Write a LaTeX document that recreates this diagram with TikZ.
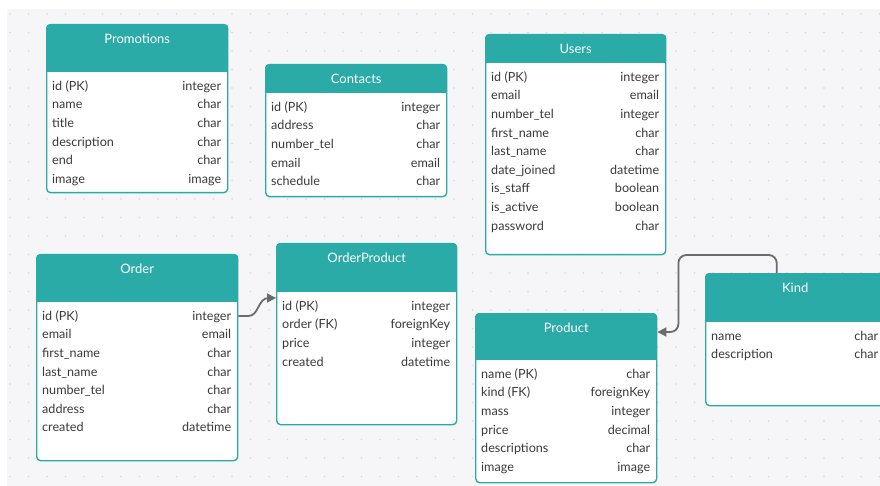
\documentclass[tikz,border=0pt]{standalone}
\usepackage{fontspec}
\setmainfont{Lato}
\usepackage{array}
\usetikzlibrary{arrows.meta}
\definecolor{headcol}{HTML}{2AABA8}
\definecolor{bgcol}{HTML}{F6F6F8}
\definecolor{dotcol}{HTML}{D9D9DE}
\definecolor{textcol}{HTML}{3A3A3A}
\definecolor{linkcol}{HTML}{6B6B6B}

\newcommand{\ertable}[8]{%
	\node[tablebody, minimum width=#4, minimum height=#6] (#1) at (#2,#3) {};
	\begin{scope}
		\clip[rounded corners=4pt] (#1.north west) rectangle (#1.south east);
		\fill[headcol] (#1.north west) rectangle ([yshift=-#5]#1.north east);
	\end{scope}
	\node[tabletitle] (#1-title) at ([yshift=-15]#1.north) {#7};
	\node[tablerows] (#1-rows) at ([xshift=6,yshift=-#5-5]#1.north west)
		{\begin{tabular*}{\dimexpr#4pt-12pt\relax}{@{}l@{\extracolsep{\fill}}r@{}}#8\end{tabular*}};
}

\begin{document}
\begin{tikzpicture}[x=1pt, y=-1pt,
				   tablebody/.style={draw=headcol, line width=1.4pt, fill=white, rounded corners=4pt, inner sep=0pt, anchor=north west},
				   tabletitle/.style={text=white, font=\fontsize{13}{15}\selectfont, inner sep=0pt},
				   tablerows/.style={text=textcol, font=\fontsize{12.6}{18.6}\selectfont, inner sep=0pt, anchor=north west},
				   link/.style={draw=linkcol, line width=1.8pt, -{Triangle[length=9pt, width=9pt]}}]
\useasboundingbox (0,0) rectangle (880,486);
\fill[white] (0,0) rectangle (880,486);
\fill[bgcol] (7,9) rectangle (880,486);
\foreach \x in {10,28.5,...,880}
	\foreach \y in {14,32.5,...,486}
		\fill[dotcol] (\x,\y) circle (0.8pt);

\ertable{promotions}{46}{24}{181}{48}{168}{Promotions}{%
	id (PK) & integer\\ name & char\\ title & char\\ description & char\\ end & char\\ image & image}
\ertable{contacts}{265}{64}{181}{29}{132}{Contacts}{%
	id (PK) & integer\\ address & char\\ number\_tel & char\\ email & email\\ schedule & char}
\ertable{users}{485}{34}{180}{29}{220}{Users}{%
	id (PK) & integer\\ email & email\\ number\_tel & integer\\ first\_name & char\\ last\_name & char\\
	date\_joined & datetime\\ is\_staff & boolean\\ is\_active & boolean\\ password & char}
\ertable{order}{36}{254}{201}{48}{206}{Order}{%
	id (PK) & integer\\ email & email\\ first\_name & char\\ last\_name & char\\ number\_tel & char\\
	address & char\\ created & datetime}
\ertable{orderproduct}{276}{243}{180}{49}{181}{OrderProduct}{%
	id (PK) & integer\\ order (FK) & foreignKey\\ price & integer\\ created & datetime}
\ertable{product}{475}{313}{181}{47}{169}{Product}{%
	name (PK) & char\\ kind (FK) & foreignKey\\ mass & integer\\ price & decimal\\ descriptions & char\\ image & image}
\ertable{kind}{705}{273}{179}{49}{132}{Kind}{%
	name & char\\ description & char}

\draw[link] ([yshift=-62]order.north east) -- ++(10,0) to[out=0, in=180] ++(20,-18) -- ([yshift=-55]orderproduct.north west);
\draw[link, rounded corners=8pt] ([xshift=-18.5]kind.north) -- ++(0,-18) -| ([xshift=21, yshift=-19]product.north east) -- ([yshift=-19]product.north east);
\end{tikzpicture}
\end{document}
